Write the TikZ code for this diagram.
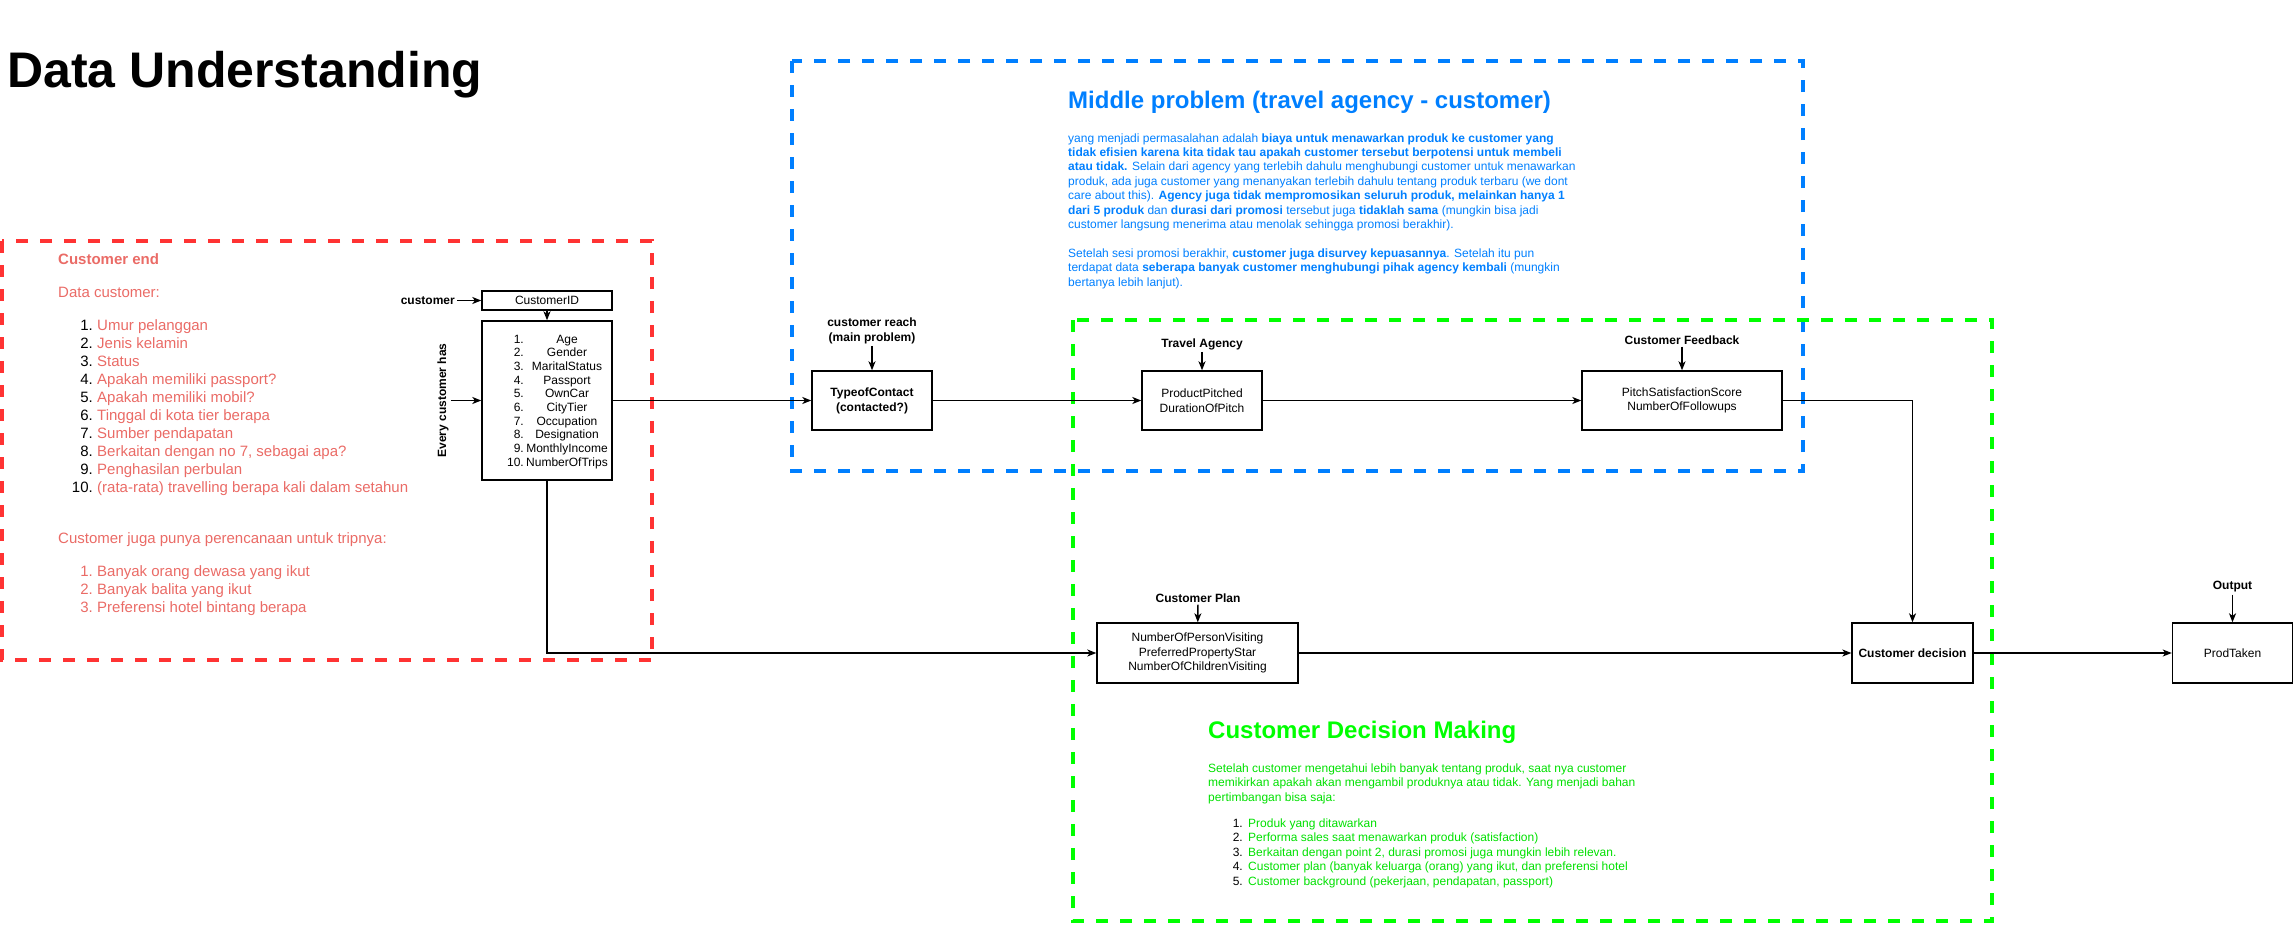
\documentclass[tikz,border=0pt]{standalone}
\usepackage{fontspec}
\setmainfont{Liberation Sans}
\usetikzlibrary{arrows.meta}

\definecolor{redLine}{HTML}{FF3333}
\definecolor{redText}{HTML}{EA6B66}
\definecolor{blueLine}{HTML}{007FFF}
\definecolor{greenLine}{HTML}{00FF00}
\definecolor{greenText}{HTML}{00E000}

\newcommand{\fsz}[2]{\fontsize{#1}{#2}\selectfont}

\begin{document}
\begin{tikzpicture}[x=1pt,y=-1pt,
    box/.style={draw,line width=1.4pt,align=center,inner sep=0pt,font=\fsz{12}{14.5}},
    flow/.style={-{Stealth[length=9pt,width=7pt,inset=2.5pt]},line width=1.4pt},
    zone/.style={line width=3.6pt,dash pattern=on 12pt off 12pt},
    tag/.style={font=\fsz{12}{15}\bfseries,align=center,inner sep=2pt}]

    \useasboundingbox (0,0) rectangle (2293,950);

    % Title
    \node[anchor=base west,inner sep=0pt,font=\fsz{50}{60}\bfseries] (title) at (7,88) {Data Understanding};

    % Dashed areas
    \draw[zone,redLine] (2,241) rectangle (652,660);
    \draw[zone,blueLine] (792,61) rectangle (1803,471);
    \draw[zone,greenLine] (1073,320) rectangle (1992,921);

    % Customer end text
    \node[anchor=base west,inner sep=0pt,font=\fsz{15}{18}\bfseries,text=redText] (custEnd) at (58,264) {Customer end};
    \node[anchor=base west,inner sep=0pt,font=\fsz{15}{18},text=redText] (dataCust) at (58,297) {Data customer:};
    \node[anchor=base east,inner sep=0pt,font=\fsz{15}{18}] (dataNums) at (93,330) {\begin{tabular}[t]{@{}r@{}}1.\\2.\\3.\\4.\\5.\\6.\\7.\\8.\\9.\\10.\end{tabular}};
    \node[anchor=base west,inner sep=0pt,font=\fsz{15}{18},text=redText] (dataItems) at (97,330) {\begin{tabular}[t]{@{}l@{}}Umur pelanggan\\Jenis kelamin\\Status\\Apakah memiliki passport?\\Apakah memiliki mobil?\\Tinggal di kota tier berapa\\Sumber pendapatan\\Berkaitan dengan no 7, sebagai apa?\\Penghasilan perbulan\\(rata-rata) travelling berapa kali dalam setahun\end{tabular}};
    \node[anchor=base west,inner sep=0pt,font=\fsz{15}{18},text=redText] (tripCust) at (58,543) {Customer juga punya perencanaan untuk tripnya:};
    \node[anchor=base east,inner sep=0pt,font=\fsz{15}{18},text=redText] (tripNums) at (93,576) {\begin{tabular}[t]{@{}r@{}}1.\\2.\\3.\end{tabular}};
    \node[anchor=base west,inner sep=0pt,font=\fsz{15}{18},text=redText] (tripItems) at (97,576) {\begin{tabular}[t]{@{}l@{}}Banyak orang dewasa yang ikut\\Banyak balita yang ikut\\Preferensi hotel bintang berapa\end{tabular}};

    % Customer data boxes
    \node[box,minimum width=130pt,minimum height=19pt] (custID) at (547,300.5) {CustomerID};
    \node[box,minimum width=130pt,minimum height=159pt] (attrBox) at (547,400.5) {};
    \node[anchor=base east,inner sep=0pt,font=\fsz{12}{13.7}] (attrNums) at (524,343) {\begin{tabular}[t]{@{}r@{}}1.\\2.\\3.\\4.\\5.\\6.\\7.\\8.\\9.\\10.\end{tabular}};
    \node[anchor=base,inner sep=0pt,font=\fsz{12}{13.7}] (attrNames) at (567,343) {\begin{tabular}[t]{@{}c@{}}Age\\Gender\\MaritalStatus\\Passport\\OwnCar\\CityTier\\Occupation\\Designation\\MonthlyIncome\\NumberOfTrips\end{tabular}};
    \node[tag,anchor=east] (custLbl) at (457,300.5) {customer};
    \node[tag,rotate=90] (everyLbl) at (443,400.5) {Every customer has};

    % Middle problem text
    \node[anchor=base west,inner sep=0pt,font=\fsz{24}{29}\bfseries,text=blueLine] (midTitle) at (1068,108) {Middle problem (travel agency - customer)};
    \node[anchor=base west,inner sep=0pt,font=\fsz{12}{14.4},text=blueLine] (midText) at (1068,142) {\begin{tabular}[t]{@{}l@{}}
        yang menjadi permasalahan adalah \textbf{biaya untuk menawarkan produk ke customer yang}\\
        \textbf{tidak efisien karena kita tidak tau apakah customer tersebut berpotensi untuk membeli}\\
        \textbf{atau tidak.} Selain dari agency yang terlebih dahulu menghubungi customer untuk menawarkan\\
        produk, ada juga customer yang menanyakan terlebih dahulu tentang produk terbaru (we dont\\
        care about this). \textbf{Agency juga tidak mempromosikan seluruh produk, melainkan hanya 1}\\
        \textbf{dari 5 produk} dan \textbf{durasi dari promosi} tersebut juga \textbf{tidaklah sama} (mungkin bisa jadi\\
        customer langsung menerima atau menolak sehingga promosi berakhir).\\
        \\
        Setelah sesi promosi berakhir, \textbf{customer juga disurvey kepuasannya}. Setelah itu pun\\
        terdapat data \textbf{seberapa banyak customer menghubungi pihak agency kembali} (mungkin\\
        bertanya lebih lanjut).
    \end{tabular}};

    % Flow boxes
    \node[box,font=\fsz{12}{15}\bfseries,minimum width=120pt,minimum height=59pt] (contact) at (872,400.5) {TypeofContact\\(contacted?)};
    \node[box,minimum width=120pt,minimum height=59pt] (pitch) at (1202,400.5) {ProductPitched\\DurationOfPitch};
    \node[box,minimum width=200pt,minimum height=59pt] (feedback) at (1682,400.5) {PitchSatisfactionScore\\NumberOfFollowups};
    \node[box,minimum width=201pt,minimum height=60pt] (plan) at (1197.5,653) {NumberOfPersonVisiting\\PreferredPropertyStar\\NumberOfChildrenVisiting};
    \node[box,font=\fsz{12}{15}\bfseries,minimum width=121pt,minimum height=60pt] (decision) at (1912.5,653) {Customer decision};
    \node[box,minimum width=120pt,minimum height=60pt] (prodTaken) at (2232.5,653) {ProdTaken};

    % Labels above the boxes
    \node[tag] (reachLbl) at (872,330.5) {customer reach\\(main problem)};
    \node[tag] (agencyLbl) at (1202,344) {Travel Agency};
    \node[tag] (feedbackLbl) at (1682,340) {Customer Feedback};
    \node[tag] (planLbl) at (1198,598) {Customer Plan};
    \node[tag] (outputLbl) at (2232.5,587) {Output};

    % Customer decision making text
    \node[anchor=base west,inner sep=0pt,font=\fsz{24}{29}\bfseries,text=greenLine] (decTitle) at (1208,738) {Customer Decision Making};
    \node[anchor=base west,inner sep=0pt,font=\fsz{12}{14.5},text=greenText] (decText) at (1208,772) {\begin{tabular}[t]{@{}l@{}}
        Setelah customer mengetahui lebih banyak tentang produk, saat nya customer\\
        memikirkan apakah akan mengambil produknya atau tidak. Yang menjadi bahan\\
        pertimbangan bisa saja:
    \end{tabular}};
    \node[anchor=base east,inner sep=0pt,font=\fsz{12}{14.5}] (decNums) at (1243,827) {\begin{tabular}[t]{@{}r@{}}1.\\2.\\3.\\4.\\5.\end{tabular}};
    \node[anchor=base west,inner sep=0pt,font=\fsz{12}{14.5},text=greenText] (decItems) at (1248,827) {\begin{tabular}[t]{@{}l@{}}
        Produk yang ditawarkan\\
        Performa sales saat menawarkan produk (satisfaction)\\
        Berkaitan dengan point 2, durasi promosi juga mungkin lebih relevan.\\
        Customer plan (banyak keluarga (orang) yang ikut, dan preferensi hotel\\
        Customer background (pekerjaan, pendapatan, passport)
    \end{tabular}};

    % Arrows into the boxes
    \draw[flow] (custLbl) -- (custID);
    \draw[flow] (custID) -- (attrBox);
    \draw[flow] (everyLbl.south) -- (everyLbl.south -| attrBox.west);
    \draw[flow] (reachLbl) -- (contact);
    \draw[flow] (agencyLbl) -- (pitch);
    \draw[flow] (feedbackLbl) -- (feedback);
    \draw[flow] (planLbl) -- (plan);
    \draw[flow] (outputLbl) -- (prodTaken);

    % Arrows between the boxes
    \draw[flow] (attrBox) -- (contact);
    \draw[flow] (contact) -- (pitch);
    \draw[flow] (pitch) -- (feedback);
    \draw[flow] (feedback) -| (decision);
    \draw[flow] (attrBox) |- (plan);
    \draw[flow] (plan) -- (decision);
    \draw[flow] (decision) -- (prodTaken);

\end{tikzpicture}
\end{document}
